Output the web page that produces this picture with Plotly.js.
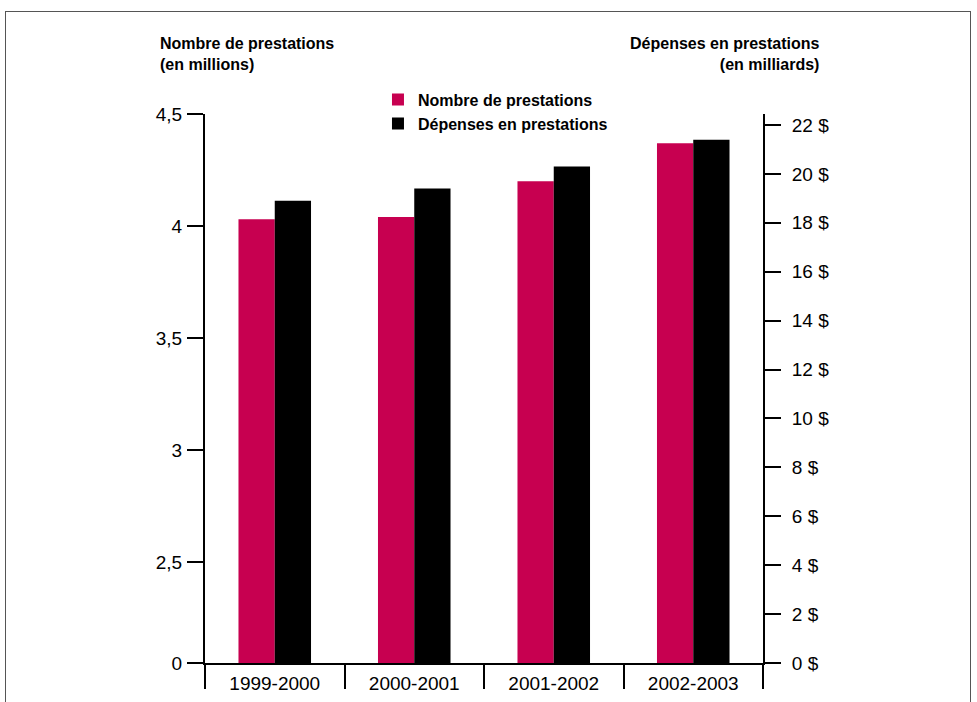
<!DOCTYPE html>
<html>
<head>
<meta charset="utf-8">
<script src="https://cdn.plot.ly/plotly-3.0.1.min.js"></script>
<style>
  html, body { margin: 0; padding: 0; background: #fff; }
  #wrap { position: relative; width: 977px; height: 702px; overflow: hidden; }
  #frame { position: absolute; left: 5px; top: 11px; width: 966px; height: 720px;
           border: 1px solid #555; box-sizing: border-box; pointer-events: none; }
  #chart { position: absolute; left: 0; top: 0; width: 977px; height: 702px; }
</style>
</head>
<body>
<div id="wrap">
  <div id="chart"></div>
  <div id="frame"></div>
</div>
<script>
// ---- data ----
const categories = ['1999-2000', '2000-2001', '2001-2002', '2002-2003'];
const nombrePrestations = [4.03, 4.04, 4.20, 4.37];      // millions
const depensesPrestations = [18.9, 19.4, 20.3, 21.4];    // milliards $
const seriesNames = ['Nombre de prestations', 'Dépenses en prestations'];
const leftTickVals = [2.05, 2.5, 3, 3.5, 4, 4.5];
const leftTickText = ['0', '2,5', '3', '3,5', '4', '4,5'];
const rightTickVals = [0, 2, 4, 6, 8, 10, 12, 14, 16, 18, 20, 22];
const rightTickText = rightTickVals.map(v => v + ' $');
const boundaryVals = [-0.5, 0.5, 1.5, 2.5, 3.5];
const leftTitle = 'Nombre de prestations<br>(en millions)';
const rightTitle = 'Dépenses en prestations<br>(en milliards)';

const PINK = '#C70050';
const FONT = 'Liberation Sans, Arial, Helvetica, sans-serif';

const traces = [
  {
    type: 'bar', name: seriesNames[0], x: categories, y: nombrePrestations,
    xaxis: 'x', yaxis: 'y', offsetgroup: '1',
    marker: { color: PINK, line: { width: 0 } }, hoverinfo: 'skip'
  },
  {
    type: 'bar', name: seriesNames[1], x: categories, y: depensesPrestations,
    xaxis: 'x', yaxis: 'y2', offsetgroup: '2',
    marker: { color: '#000000', line: { width: 0 } }, hoverinfo: 'skip'
  },
  {
    type: 'scatter', mode: 'markers', x: [], y: [], xaxis: 'x2', yaxis: 'y',
    showlegend: false, hoverinfo: 'skip'
  }
];

const layout = {
  width: 977, height: 702,
  margin: { l: 205, r: 214, t: 114, b: 39 },
  paper_bgcolor: '#ffffff', plot_bgcolor: '#ffffff',
  font: { family: FONT, size: 19, color: '#000' },
  barmode: 'group', bargap: 0.48, bargroupgap: 0,
  showlegend: true,
  legend: {
    x: 0.31, xanchor: 'left', y: 1.057, yanchor: 'top',
    font: { family: FONT, size: 16, color: '#000', weight: 'bold' },
    bgcolor: 'rgba(0,0,0,0)', borderwidth: 0, tracegroupgap: 0,
    traceorder: 'normal'
  },
  xaxis: {
    type: 'category', categoryarray: categories, categoryorder: 'array',
    range: [-0.5, 3.5], showgrid: false, zeroline: false,
    showline: true, linecolor: '#000', linewidth: 2,
    ticks: '', ticklabelstandoff: 2,
    tickfont: { family: FONT, size: 19, color: '#000' }, fixedrange: true
  },
  xaxis2: {
    overlaying: 'x', anchor: 'y', side: 'bottom', type: 'linear',
    range: [-0.5, 3.5], tickmode: 'array', tickvals: boundaryVals,
    ticks: 'outside', ticklen: 25, tickwidth: 2, tickcolor: '#000',
    showticklabels: false, showgrid: false, zeroline: false, showline: false
  },
  yaxis: {
    range: [2.05, 4.5], tickmode: 'array', tickvals: leftTickVals, ticktext: leftTickText,
    ticks: 'outside', ticklen: 16, tickwidth: 2, tickcolor: '#000',
    showline: true, linecolor: '#000', linewidth: 2,
    showgrid: false, zeroline: false, ticklabelstandoff: 1,
    tickfont: { family: FONT, size: 19, color: '#000' }
  },
  yaxis2: {
    overlaying: 'y', side: 'right', anchor: 'x',
    range: [0, 22.45], tickmode: 'array', tickvals: rightTickVals, ticktext: rightTickText,
    ticks: 'outside', ticklen: 16, tickwidth: 2, tickcolor: '#000',
    showline: true, linecolor: '#000', linewidth: 2,
    showgrid: false, zeroline: false, ticklabelstandoff: 7,
    tickfont: { family: FONT, size: 19, color: '#000' }
  },
  annotations: [
    {
      text: leftTitle, xref: 'paper', yref: 'paper',
      x: -0.0842, xanchor: 'left', y: 1.148, yanchor: 'top', align: 'left',
      showarrow: false, font: { family: FONT, size: 16, color: '#000', weight: 'bold' }
    },
    {
      text: rightTitle, xref: 'paper', yref: 'paper',
      x: 1.1057, xanchor: 'right', y: 1.148, yanchor: 'top', align: 'right',
      showarrow: false, font: { family: FONT, size: 16, color: '#000', weight: 'bold' }
    }
  ]
};

Plotly.newPlot('chart', traces, layout, { staticPlot: true, displayModeBar: false });
</script>
</body>
</html>
